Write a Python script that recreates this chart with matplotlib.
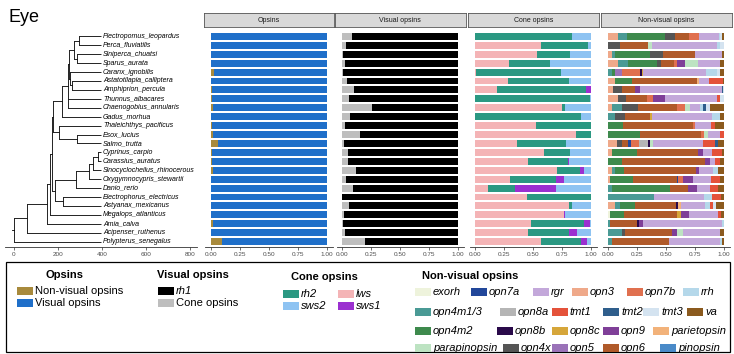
import matplotlib
matplotlib.use("Agg")
import matplotlib.pyplot as plt
from matplotlib.patches import Rectangle

plt.rcParams["font.family"] = ["Liberation Sans", "DejaVu Sans"]

W, H = 734, 354

species = [
    "Plectropomus_leopardus", "Perca_fluviatilis", "Siniperca_chuatsi", "Sparus_aurata",
    "Caranx_ignobilis", "Astatotilapia_calliptera", "Amphiprion_percula", "Thunnus_albacares",
    "Chaenogobius_annularis", "Gadus_morhua", "Thaleichthys_pacificus", "Esox_lucius",
    "Salmo_trutta", "Cyprinus_carpio", "Carassius_auratus", "Sinocyclocheilus_rhinocerous",
    "Oxygymnocypris_stewartii", "Danio_rerio", "Electrophorus_electricus", "Astyanax_mexicanus",
    "Megalops_atlanticus", "Amia_calva", "Acipenser_ruthenus", "Polypterus_senegalus",
]

# tree: (node depth, children), leaves are species names
tree = (0, [
    (60, [
        (150, [
            (165, [
                (174, [
                    (178, [
                        (220, [
                            (245, [
                                (252, [
                                    (272, [(297, ["Plectropomus_leopardus", "Perca_fluviatilis"]),
                                           (288, ["Siniperca_chuatsi", "Sparus_aurata"])]),
                                    (256, ["Caranx_ignobilis",
                                           (262, ["Astatotilapia_calliptera", "Amphiprion_percula"])]),
                                ]),
                                "Thunnus_albacares",
                                "Chaenogobius_annularis",
                            ]),
                            "Gadus_morhua",
                        ]),
                        (206, ["Thaleichthys_pacificus", (288, ["Esox_lucius", "Salmo_trutta"])]),
                    ]),
                    (188, [
                        (284, [(340, [(357, [(383, ["Cyprinus_carpio", "Carassius_auratus"]),
                                             "Sinocyclocheilus_rhinocerous"]),
                                      "Oxygymnocypris_stewartii"]),
                               "Danio_rerio"]),
                        (225, ["Electrophorus_electricus", "Astyanax_mexicanus"]),
                    ]),
                ]),
                "Megalops_atlanticus",
            ]),
            "Amia_calva",
        ]),
        "Acipenser_ruthenus",
    ]),
    "Polypterus_senegalus",
])
tip_depth = 395

# Opsins panel: share of non-visual opsins (rest is visual)
opsin_nonvisual = [0.005, 0.005, 0.005, 0.005, 0.025, 0.005, 0.01, 0.01, 0.015, 0.005, 0.01, 0.02,
                   0.06, 0.01, 0.01, 0.02, 0.005, 0.005, 0.005, 0.005, 0.005, 0.02, 0.005, 0.1]

# Visual opsins panel: share of cone opsins (rest is rh1)
visual_cone = [0.086, 0.03, 0.01, 0.02, 0.01, 0.04, 0.10, 0.06, 0.26, 0.07, 0.02, 0.15,
               0.015, 0.05, 0.045, 0.12, 0.03, 0.095, 0.0, 0.055, 0.015, 0.01, 0.02, 0.2]

# Cone opsins panel
cone_lws = [0, 0.571, 0.529, 0.294, 0.01, 0.28, 0.186, 0, 0.751, 0, 0.52, 0.866,
            0.357, 0.591, 0.457, 0.706, 0.3, 0.109, 0.449, 0.806, 0.763, 0.477, 0.451, 0.566]
cone_rh2 = [0.837, 0.4, 0.286, 0.349, 0.733, 0.529, 0.766, 0.986, 0.02, 0.909, 0.48, 0.134,
            0.429, 0.223, 0.343, 0.2, 0.4, 0.234, 0.551, 0.029, 0, 0.46, 0.357, 0.349]
cone_sws1 = [0, 0, 0, 0, 0, 0, 0.049, 0, 0, 0, 0, 0,
             0, 0, 0.006, 0.029, 0.066, 0.357, 0, 0, 0.009, 0.054, 0.069, 0.049]
cone_sws2 = [0.163, 0.029, 0.186, 0.357, 0.257, 0.191, 0, 0.014, 0.229, 0.091, 0, 0,
             0.214, 0.186, 0.194, 0.066, 0.234, 0.3, 0, 0.166, 0.229, 0.009, 0.123, 0.037]

# Non-visual opsins panel (percent of non-visual opsin expression)
nv_exorh = [0, 0, 0, 0, 0, 0, 0, 0, 0, 0, 0, 0, 0, 0, 0, 0, 0, 0, 0, 0, 1.4, 0, 0, 0]
nv_opn3 = [8.6, 0, 2.9, 8.6, 0, 5.7, 4.3, 8.6, 2.9, 0, 0, 0, 7.2, 2.9, 0, 2.9, 1.4, 0, 0, 5.7, 0, 0, 0, 0]
nv_opn4m1_3 = [7.2, 0, 2.9, 8.6, 2.9, 0, 0, 0, 8.6, 5.7, 0, 0, 0, 0, 0, 2.9, 0, 2.9, 38.8, 4.3, 0, 1.4, 11.5, 2.9]
nv_opn4m2 = [33, 0, 30.2, 24.4, 2.9, 15, 0, 0, 0, 0, 12.4, 27.3, 0, 22.1, 11.5, 7.8, 20.1, 50.3, 0, 12.9, 11.5, 0, 0, 0]
nv_opn4x = [8.6, 10, 11.5, 4.3, 0, 0, 7.2, 6.6, 14.4, 8.6, 0, 0, 4.3, 0, 0, 0, 0, 0, 0, 0, 0, 0, 2.9, 0]
nv_opn5 = [0, 0, 0, 0, 5.7, 0, 0, 0, 0, 0, 0, 0, 0, 0, 0, 0, 0, 0, 0, 0, 0, 0, 0, 0]
nv_opn6 = [11.5, 24.4, 27.3, 10.6, 0, 55.5, 11.5, 17.8, 33, 21.6, 59.5, 52.3, 5.7, 52.6, 71.8, 61.8, 37.9, 15.5, 0, 34.5, 45.4, 23.6, 40.2, 49.7]
nv_opn7a = [0, 0, 0, 0, 0, 0, 0, 0, 0, 0, 0, 0, 2, 0, 0, 0, 0.9, 0, 0, 0, 0, 0, 0, 0]
nv_opn7b = [8.6, 0, 0, 2.9, 15.8, 0, 0, 5.7, 7.2, 0, 2, 2.9, 7.5, 0, 0, 0, 4.3, 0, 0, 0, 0, 0, 0, 0]
nv_opn8a = [0, 0, 0, 0, 0, 0, 0, 0, 0, 0, 0, 0, 7.8, 0, 0, 0, 0, 0, 0, 0, 0, 0, 0, 0]
nv_opn8b = [0, 0, 0, 0, 2, 0, 0, 0, 0, 0, 0, 0, 1.4, 0, 0, 0, 0, 0, 0, 2, 0, 1.7, 0, 0]
nv_opn8c = [0, 0, 0, 0, 0.9, 0, 0, 0, 0, 1.4, 0, 0, 0, 0, 0, 0, 0, 0, 0, 0, 2.9, 0, 0, 0]
nv_opn9 = [0, 0, 0, 6.6, 0, 0, 4.3, 10, 0, 0, 0, 0, 0, 4.3, 4.3, 2.3, 8.6, 7.5, 0, 0, 7.2, 3.4, 4.9, 0]
nv_parapinopsin = [0, 2.9, 0, 11.5, 0, 0, 0, 0, 4.3, 0, 0, 3.7, 2.9, 0, 0, 0, 0, 0, 0, 0, 0, 0, 5.2, 0]
nv_parietopsin = [0, 0, 0, 0, 0, 2.3, 0, 0, 0, 0, 0, 0, 0, 0, 0, 0, 0, 0, 0, 2.3, 0, 0, 0, 0]
nv_pinopsin = [0] * 24
nv_rgr = [17.2, 56, 23, 19.3, 54, 8.6, 70.4, 44.5, 8.6, 51.7, 13.8, 10.6, 43.1, 7.2, 4.3, 12, 15.2, 11.5, 43.1, 20.1, 24.4, 67.2, 32.2, 43.7]
nv_rrh = [1.1, 2.9, 0, 0, 9.2, 0, 0, 0, 2.3, 7.2, 0, 0, 0, 0, 0, 4.3, 0, 0, 7.2, 4.3, 0, 2.3, 0, 2]
nv_tmt1 = [0, 0, 0, 0, 0, 11.5, 0, 2.9, 0, 0, 2.9, 3.2, 10, 8.6, 4.3, 0, 7.8, 7.2, 7.2, 2.9, 2.9, 0, 0, 0]
nv_tmt2 = [0, 0, 0, 0, 0, 0, 1, 0, 3.4, 0, 0, 0, 2.9, 0, 0, 0, 0, 0, 0, 0, 0, 0, 0, 0]
nv_tmt3 = [1.4, 3.7, 0, 0, 2.9, 0, 1.3, 3.7, 2.9, 0, 0, 0, 0, 0, 0, 0, 0, 0, 0, 2.9, 0, 0, 0, 0]
nv_va = [2.3, 0, 2.3, 3.2, 3.7, 1.4, 0, 0, 12.4, 3.7, 8, 0, 5.2, 2.3, 3.7, 5.2, 3.7, 5.2, 2.9, 6.6, 2.3, 0, 3.2, 1.7]

nv_colors = {
    "exorh": "#eef3dc", "opn7a": "#22479a", "rgr": "#c3a8da", "opn3": "#efa98a",
    "opn7b": "#e0704f", "rrh": "#b5d8ea", "opn4m1/3": "#4a9a95", "opn8a": "#b5b5b5",
    "tmt1": "#e4523a", "tmt2": "#2f5e8c", "tmt3": "#d4e3f0", "va": "#8b5a1e",
    "opn4m2": "#3e8a4d", "opn8b": "#2a0a4a", "opn8c": "#d6a63a", "opn9": "#7f3f98",
    "parietopsin": "#f2b27a", "parapinopsin": "#bde3c2", "opn4x": "#555555",
    "opn5": "#9a72b8", "opn6": "#b05a2a", "pinopsin": "#4a8ac8",
}
nv_series = [
    ("exorh", nv_exorh), ("opn3", nv_opn3), ("opn4m1/3", nv_opn4m1_3), ("opn4m2", nv_opn4m2),
    ("opn4x", nv_opn4x), ("opn5", nv_opn5), ("opn6", nv_opn6), ("opn7a", nv_opn7a),
    ("opn7b", nv_opn7b), ("opn8a", nv_opn8a), ("opn8b", nv_opn8b), ("opn8c", nv_opn8c),
    ("opn9", nv_opn9), ("parapinopsin", nv_parapinopsin), ("parietopsin", nv_parietopsin),
    ("pinopsin", nv_pinopsin), ("rgr", nv_rgr), ("rrh", nv_rrh), ("tmt1", nv_tmt1),
    ("tmt2", nv_tmt2), ("tmt3", nv_tmt3), ("va", nv_va),
]

c_nonvis, c_vis = "#a88a3c", "#1f6fc9"
c_rh1, c_cone = "black", "#bebebe"
c_rh2, c_lws, c_sws2, c_sws1 = "#2b9882", "#f4b4b6", "#8ec3f2", "#9b30d0"

fig = plt.figure(figsize=(W / 100, H / 100), dpi=100)


def px_axes(x0, y0, x1, y1):
    return fig.add_axes([x0 / W, 1 - y1 / H, (x1 - x0) / W, (y1 - y0) / H])


n = len(species)
ypos = {s: n - i for i, s in enumerate(species)}
ylim = (0.4, n + 0.6)
panel_top, panel_bot = 31, 247


def style_axis(ax):
    for side in ("top", "right", "left"):
        ax.spines[side].set_visible(False)
    ax.spines["bottom"].set_linewidth(0.6)
    ax.spines["bottom"].set_color("#333333")
    ax.set_yticks([])
    ax.tick_params(axis="x", labelsize=4.6, length=2, width=0.5, pad=1.5,
                   colors="#333333", labelcolor="#4d4d4d")
    ax.set_ylim(*ylim)
    ax.patch.set_alpha(0)


# tree
ax_t = px_axes(5, panel_top, 197, panel_bot)
style_axis(ax_t)
ax_t.set_xlim((5 - 14) / 0.22, (197 - 14) / 0.22)
ax_t.set_xticks([0, 200, 400, 600, 800])


def draw(node, depth_parent=None):
    if isinstance(node, str):
        y = ypos[node]
        ax_t.text(tip_depth + 10, y, node, fontsize=5, style="italic",
                  va="center", ha="left", clip_on=False)
        if depth_parent is not None:
            ax_t.plot([depth_parent, tip_depth], [y, y], color="black", lw=0.6,
                      solid_capstyle="butt")
        return y
    depth, children = node
    ys = [draw(c, depth) for c in children]
    ax_t.plot([depth, depth], [min(ys), max(ys)], color="black", lw=0.6)
    y = (min(ys) + max(ys)) / 2
    if depth_parent is not None:
        ax_t.plot([depth_parent, depth], [y, y], color="black", lw=0.6,
                  solid_capstyle="butt")
    return y


root_y = draw(tree)
ax_t.plot([-8, 0], [root_y, root_y], color="black", lw=0.6)

# bar panels
panel_lefts = [205, 336.5, 469.5, 602.5]
panel_w = 127.5
titles = ["Opsins", "Visual opsins", "Cone opsins", "Non-visual opsins"]
ys = [ypos[s] for s in species]
bh = 0.78


def stacked(ax, series):
    left = [0.0] * n
    for vals, col in series:
        ax.barh(ys, vals, left=left, height=bh, color=col, linewidth=0)
        left = [a + b for a, b in zip(left, vals)]


axes = []
for x0, title in zip(panel_lefts, titles):
    ax = px_axes(x0, panel_top, x0 + panel_w, panel_bot)
    style_axis(ax)
    ax.set_xlim(-0.05, 1.05)
    ax.set_xticks([0, 0.25, 0.5, 0.75, 1.0])
    ax.set_xticklabels(["0.00", "0.25", "0.50", "0.75", "1.00"])
    axes.append(ax)
    sa = px_axes(x0 - 1.5, 13, x0 + panel_w + 1.5, 27)
    sa.set_facecolor("#d9d9d9")
    sa.set_xticks([])
    sa.set_yticks([])
    for sp in sa.spines.values():
        sp.set_linewidth(0.6)
        sp.set_color("#555555")
    sa.text(0.5, 0.5, title, fontsize=5, ha="center", va="center", color="#1a1a1a",
            transform=sa.transAxes)

stacked(axes[0], [(opsin_nonvisual, c_nonvis), ([1 - v for v in opsin_nonvisual], c_vis)])
stacked(axes[1], [(visual_cone, c_cone), ([1 - v for v in visual_cone], c_rh1)])
cone_tot = [a + b + c + d for a, b, c, d in zip(cone_lws, cone_rh2, cone_sws1, cone_sws2)]
stacked(axes[2], [([v / t for v, t in zip(vals, cone_tot)], col) for vals, col in
                  [(cone_lws, c_lws), (cone_rh2, c_rh2), (cone_sws1, c_sws1), (cone_sws2, c_sws2)]])
nv_tot = [sum(col) for col in zip(*[v for _, v in nv_series])]
stacked(axes[3], [([v / t for v, t in zip(vals, nv_tot)], nv_colors[name])
                  for name, vals in nv_series])

# title
fig.text(9 / W, 1 - 17 / H, "Eye", fontsize=13, ha="left", va="center")

# legend box
fig.add_artist(Rectangle((6 / W, 1 - 352 / H), 724 / W, 90 / H, transform=fig.transFigure,
                         fill=False, ec="black", lw=0.9))


def key(x, y, color, label, italic=False, kw=16, kh=8, size=8):
    fig.add_artist(Rectangle((x / W, 1 - (y + kh / 2) / H), kw / W, kh / H,
                             transform=fig.transFigure, fc=color, ec="none"))
    fig.text((x + kw + 2) / W, 1 - y / H, label, fontsize=size, va="center", ha="left",
             style="italic" if italic else "normal")


def ltitle(x, y, label):
    fig.text(x / W, 1 - y / H, label, fontsize=8, fontweight="bold", va="center", ha="left")


ltitle(45, 275, "Opsins")
key(17, 291, c_nonvis, "Non-visual opsins")
key(17, 303, c_vis, "Visual opsins")

ltitle(157, 275, "Visual opsins")
key(158, 291, c_rh1, "rh1", italic=True)
key(158, 303, c_cone, "Cone opsins")

ltitle(291, 277, "Cone opsins")
key(283, 294, c_rh2, "rh2", italic=True)
key(338, 294, c_lws, "lws", italic=True)
key(283, 306, c_sws2, "sws2", italic=True)
key(338, 306, c_sws1, "sws1", italic=True)

ltitle(422, 276, "Non-visual opsins")
nv_rows = [
    (292, [("exorh", 415), ("opn7a", 471), ("rgr", 533), ("opn3", 572), ("opn7b", 627), ("rrh", 683)]),
    (312, [("opn4m1/3", 415), ("opn8a", 500), ("tmt1", 552), ("tmt2", 603), ("tmt3", 643), ("va", 687)]),
    (331, [("opn4m2", 415), ("opn8b", 497), ("opn8c", 552), ("opn9", 603), ("parietopsin", 653)]),
    (348, [("parapinopsin", 415), ("opn4x", 503), ("opn5", 552), ("opn6", 603), ("pinopsin", 660)]),
]
for y, entries in nv_rows:
    for name, x in entries:
        key(x, y, nv_colors[name], name, italic=True)

fig.savefig("out.png", dpi=100)
